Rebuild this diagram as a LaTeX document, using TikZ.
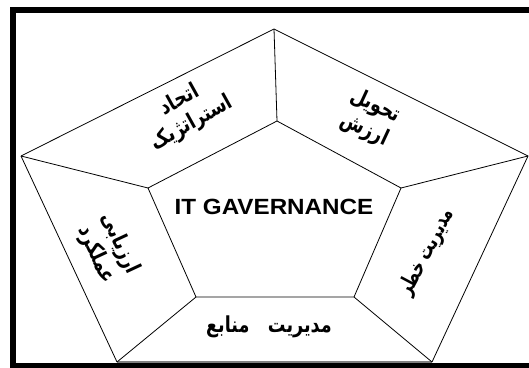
\documentclass[tikz,border=0pt]{standalone}
\usepackage{fontspec}
\setmainfont{Liberation Sans}
\newfontfamily\farsi[Script=Arabic,FakeStretch=0.8]{DejaVu Sans}
\TeXXeTstate=1
\tikzstyle{edge} = [line width=0.8pt]
\tikzstyle{part} = [align=center,inner sep=1pt,font=\farsi\bfseries\fontsize{22}{26}\selectfont]

\begin{document}
\begin{tikzpicture}[x=1pt,y=-1pt]
		\useasboundingbox (0,0) rectangle (529,367);
		\fill[white] (0,0) rectangle (529,367);
		\draw[line width=6pt] (13,10) rectangle (545,366);

		\coordinate (ot) at (274,29);
		\coordinate (ol) at (21,156);
		\coordinate (or) at (528,156);
		\coordinate (obl) at (117,362);
		\coordinate (obr) at (432,362);
		\coordinate (it) at (277,121);
		\coordinate (il) at (148,188);
		\coordinate (ir) at (401,188);
		\coordinate (ibl) at (196,297);
		\coordinate (ibr) at (354,297);

		\draw[edge] (ol)--(ot)--(or)--(obr);
		\draw[edge] (obl)--(ol);
		\draw[gray,line width=2pt] (obl)--(obr);
		\draw[edge] (it)--(ir)--(ibr)--(ibl)--(il)--cycle;
		\draw[edge] (ot)--(it);
		\draw[edge] (ol)--(il);
		\draw[edge] (or)--(ir);
		\draw[edge] (obl)--(ibl);
		\draw[edge] (obr)--(ibr);

		\node[font=\bfseries\fontsize{22}{24}\selectfont,xscale=1.1] (gov) at (274,207) {IT GAVERNANCE};
		\node[part,rotate=29] (strategy) at (186,112) {\beginR اتحاد\endR\\\beginR استراتژیک\endR};
		\node[part,rotate=-25] (value) at (370,118) {\beginR تحویل\endR\\\beginR ارزش\endR};
		\node[part,rotate=62,xscale=0.85] (risk) at (427,252) {\beginR مدیریت خطر\endR};
		\node[part] (resource) at (269,327) {\beginR مدیریت~~~منابع\endR};
		\node[part,rotate=-65] (perform) at (108,249) {\beginR ارزیابی\endR\\\beginR عملکرد\endR};
\end{tikzpicture}
\end{document}
